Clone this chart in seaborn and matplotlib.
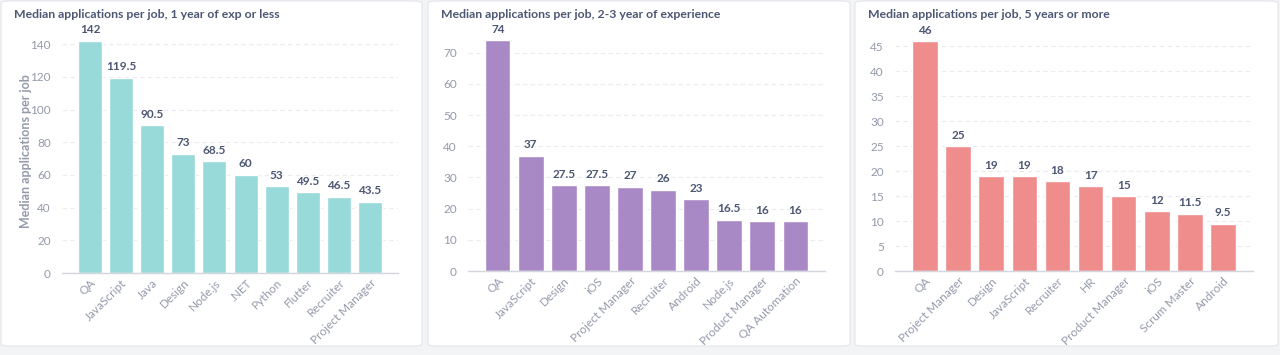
import matplotlib
matplotlib.use("Agg")
import matplotlib.pyplot as plt
import seaborn as sns
import pandas as pd
from matplotlib.patches import FancyBboxPatch

# data
jobs_junior = ["QA", "JavaScript", "Java", "Design", "Node.js", ".NET", "Python",
               "Flutter", "Recruiter", "Project Manager"]
apps_junior = [142, 119.5, 90.5, 73, 68.5, 60, 53, 49.5, 46.5, 43.5]

jobs_middle = ["QA", "JavaScript", "Design", "iOS", "Project Manager", "Recruiter",
               "Android", "Node.js", "Product Manager", "QA Automation"]
apps_middle = [74, 37, 27.5, 27.5, 27, 26, 23, 16.5, 16, 16]

jobs_senior = ["QA", "Project Manager", "Design", "JavaScript", "Recruiter", "HR",
               "Product Manager", "iOS", "Scrum Master", "Android"]
apps_senior = [46, 25, 19, 19, 18, 17, 15, 12, 11.5, 9.5]

titles = ["Median applications per job, 1 year of exp or less",
          "Median applications per job, 2-3 year of experience",
          "Median applications per job, 5 years or more"]
yticks = [list(range(0, 141, 20)), list(range(0, 71, 10)), list(range(0, 46, 5))]
ytops = [148.7, 77.3, 48.3]
colors = ["#98d9d9", "#a989c5", "#ef8c8c"]

sns.set_theme(style="white")
plt.rcParams["font.family"] = ["Lato", "DejaVu Sans"]

W, H = 1280, 355
DARK = "#4c5773"
GREY = "#949aab"

fig = plt.figure(figsize=(W / 100, H / 100), dpi=100)
fig.patch.set_facecolor("#f3f4f6")

# card boxes (pixels)
cards = [(1, 422), (428, 850), (855, 1278)]
for x0, x1 in cards:
    fig.patches.append(FancyBboxPatch((x0 / W, 1 - 346 / H), (x1 - x0) / W, 345 / H,
                                      boxstyle="round,pad=0,rounding_size=0.006",
                                      transform=fig.transFigure, facecolor="white",
                                      edgecolor="#e3e5ea", linewidth=0.8, zorder=-5))

# axes x-extent in pixels, and y=0 line
axes_px = [(62, 398, 273), (468, 825, 271), (895, 1253, 271)]

panels = [(jobs_junior, apps_junior), (jobs_middle, apps_middle), (jobs_senior, apps_senior)]

for i, (jobs, apps) in enumerate(panels):
    x0, x1, y0 = axes_px[i]
    top = 30
    ax = fig.add_axes([x0 / W, 1 - y0 / H, (x1 - x0) / W, (y0 - top) / H])
    ax.set_facecolor("none")
    df = pd.DataFrame({"job": jobs, "apps": apps})
    sns.barplot(data=df, x="job", y="apps", color=colors[i], saturation=1,
                width=0.77, ax=ax, zorder=2)
    ax.set_xlim(-0.9, 9.9)
    ax.set_ylim(0, ytops[i])
    ax.set_yticks(yticks[i])
    ax.yaxis.grid(True, color="#ececf0", linestyle=(0, (4, 3)), linewidth=0.8, zorder=0)
    ax.set_axisbelow(True)
    for s in ["top", "right", "left"]:
        ax.spines[s].set_visible(False)
    ax.spines["bottom"].set_color("#d3d6dd")
    ax.spines["bottom"].set_linewidth(1)
    ax.tick_params(axis="y", length=0, labelsize=8.5, labelcolor=GREY, pad=8)
    ax.tick_params(axis="x", length=0, labelsize=8.5, labelcolor=GREY, pad=3)
    ax.set_xticks([-0.9, 9.9], minor=True)
    ax.tick_params(axis="x", which="minor", length=4, color="#d3d6dd", width=1)
    for lab in ax.get_xticklabels():
        lab.set_rotation(45)
        lab.set_ha("right")
        lab.set_rotation_mode("anchor")
    ax.set_xlabel("")
    if i == 0:
        ax.set_ylabel("Median applications per job", fontsize=9, color=GREY,
                      fontweight="bold", labelpad=-1)
    else:
        ax.set_ylabel("")
    for c in ax.containers:
        ax.bar_label(c, labels=[f"{v:g}" for v in apps], padding=4, fontsize=8.5,
                     color=DARK, fontweight="bold")
    fig.text((cards[i][0] + 13) / W, 1 - 15 / H, titles[i], fontsize=8.8,
             fontweight="bold", color=DARK, va="center", ha="left")

fig.savefig("out.png", dpi=100, facecolor=fig.get_facecolor())
